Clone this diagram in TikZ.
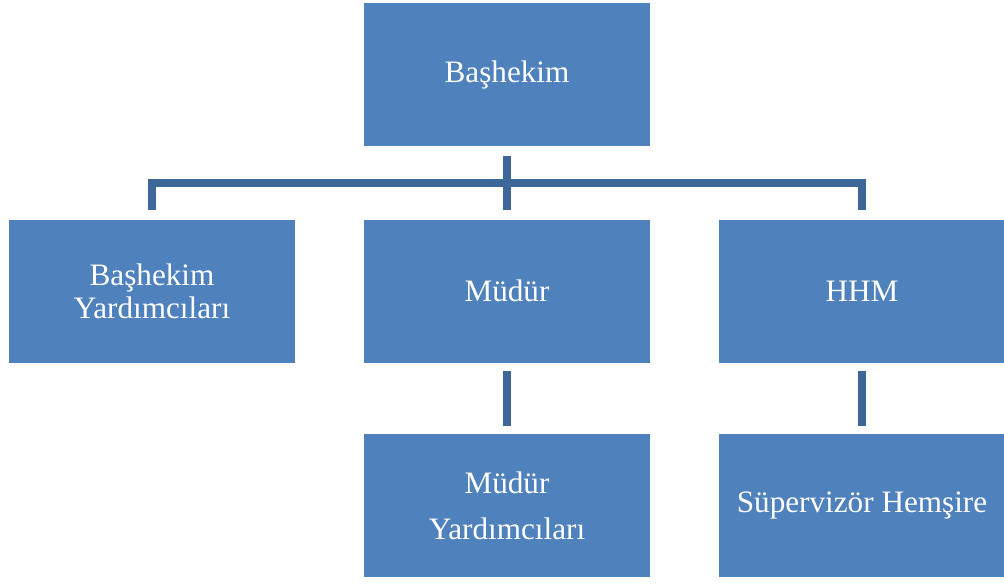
\documentclass[tikz,border=0pt]{standalone}
\usepackage{fontspec}
\setmainfont{Liberation Serif}
\usepackage{xcolor}
\usetikzlibrary{calc, positioning}

\definecolor{kutu}{HTML}{4F81BD}
\definecolor{hat}{HTML}{3D6798}

\begin{document}
\begin{tikzpicture}[x=0.5pt, y=-0.5pt,
    birim/.style={fill=kutu, draw=none, text=white, align=center,
        minimum width=143pt, minimum height=71.5pt, inner sep=0pt,
        font=\fontsize{15.6}{16.5}\selectfont},
    hatti/.style={draw=hat, line width=4.2pt, line cap=butt, line join=miter}]
    \useasboundingbox (0,0) rectangle (1004,583);

    % Kutular
    \node[birim] (bashekim) at (507,74.5) {Başhekim};
    \node[birim] (byard) at (152,291) {Başhekim\\Yardımcıları};
    \node[birim] (mudur) at (507,291) {Müdür};
    \node[birim] (hhm) at (862,291) {HHM};
    \node[birim, font=\fontsize{15.6}{23}\selectfont] (myard) at (507,505.5) {Müdür\\Yardımcıları};
    \node[birim] (super) at (862,505.5) {Süpervizör Hemşire};

    % Bağlantılar
    \draw[hatti] ($(bashekim.south)+(0,10)$) -- ($(mudur.north)+(0,-9)$);
    \draw[hatti] ($(byard.north)+(0,-9)$) |- ($(bashekim.south)!0.5!(mudur.north)$)
        -| ($(hhm.north)+(0,-9)$);
    \draw[hatti] ($(mudur.south)+(0,8)$) -- ($(myard.north)+(0,-8)$);
    \draw[hatti] ($(hhm.south)+(0,8)$) -- ($(super.north)+(0,-8)$);

\end{tikzpicture}
\end{document}
